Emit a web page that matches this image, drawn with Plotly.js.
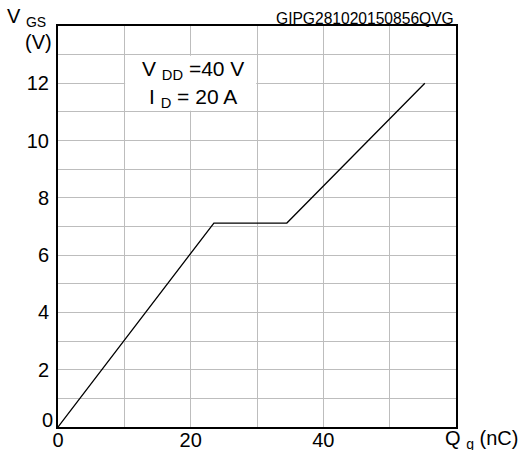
<!DOCTYPE html>
<html><head><meta charset="utf-8">
<script src="https://cdn.plot.ly/plotly-3.0.1.min.js"></script>
<style>html,body{margin:0;padding:0;background:#fff;}#chart{width:526px;height:450px;}</style>
</head><body><div id="chart"></div>
<script>
const qg = [0, 23.5, 34.5, 55.3];
const vgs = [0, 7.12, 7.12, 12];
const xTickVals = [0, 10, 20, 30, 40, 50, 60];
const xTickText = ['0', '', '20', '', '40', '', ''];
const yTickVals = [0,1,2,3,4,5,6,7,8,9,10,11,12,13,14];
const yTickText = ['','','2','','4','','6','','8','','10','','12','',''];
const font = 'Liberation Sans, Arial, sans-serif';

const data = [{
  x: qg, y: vgs, type: 'scatter', mode: 'lines',
  line: {color: '#000', width: 1.3}, hoverinfo: 'skip', showlegend: false
}];
const layout = {
  width: 526, height: 450,
  margin: {l: 58, r: 70, t: 26, b: 23},
  paper_bgcolor: '#fff', plot_bgcolor: '#fff',
  font: {family: font, size: 20, color: '#000'},
  xaxis: {range: [0, 60], tickmode: 'array', tickvals: xTickVals, ticktext: xTickText,
    showgrid: true, gridcolor: '#bdbdbd', gridwidth: 1, zeroline: false,
    showline: true, linecolor: '#000', linewidth: 2, mirror: true, ticks: '', ticklen: 0,
    ticklabelstandoff: -6, fixedrange: true},
  yaxis: {range: [0, 14], tickmode: 'array', tickvals: yTickVals, ticktext: yTickText,
    showgrid: true, gridcolor: '#bdbdbd', gridwidth: 1, zeroline: false,
    showline: true, linecolor: '#000', linewidth: 2, mirror: true, ticks: '', ticklen: 0,
    ticklabelstandoff: 3, fixedrange: true},
  shapes: [{type: 'rect', xref: 'x', yref: 'y', x0: 10.12, x1: 29.88, y0: 11.04, y1: 12.96,
    fillcolor: '#fff', line: {width: 0}, layer: 'above'}],
  annotations: [
    {xref: 'paper', yref: 'y', x: 0, y: 0, text: '0', showarrow: false,
      font: {family: font, size: 20}, xanchor: 'right', yanchor: 'middle', xshift: -3, yshift: 7},
    {xref: 'x', yref: 'y', x: 20.4, y: 12.45, text: 'V <sub>DD</sub> =40 V', showarrow: false,
      font: {family: font, size: 21}, xanchor: 'center', yanchor: 'middle'},
    {xref: 'x', yref: 'y', x: 20.4, y: 11.5, text: 'I <sub>D</sub> = 20 A', showarrow: false,
      font: {family: font, size: 21}, xanchor: 'center', yanchor: 'middle'},
    {xref: 'paper', yref: 'paper', x: 1, y: 1, text: 'GIPG281020150856QVG', showarrow: false,
      font: {family: font, size: 15.6}, xanchor: 'right', yanchor: 'bottom', yshift: -3},
    {xref: 'paper', yref: 'paper', x: 0, y: 1, text: 'V <sub>GS</sub>', showarrow: false,
      font: {family: font, size: 20}, xanchor: 'right', yanchor: 'bottom', xshift: -10, yshift: -6},
    {xref: 'paper', yref: 'paper', x: 0, y: 1, text: '(V)', showarrow: false,
      font: {family: font, size: 20}, xanchor: 'right', yanchor: 'top', xshift: -4, yshift: -3},
    {xref: 'paper', yref: 'paper', x: 1, y: 0, text: 'Q <sub>g</sub> (nC)', showarrow: false,
      font: {family: font, size: 20}, xanchor: 'left', yanchor: 'top', xshift: -13, yshift: 2}
  ]
};
Plotly.newPlot('chart', data, layout, {displayModeBar: false, staticPlot: true});
</script></body></html>
